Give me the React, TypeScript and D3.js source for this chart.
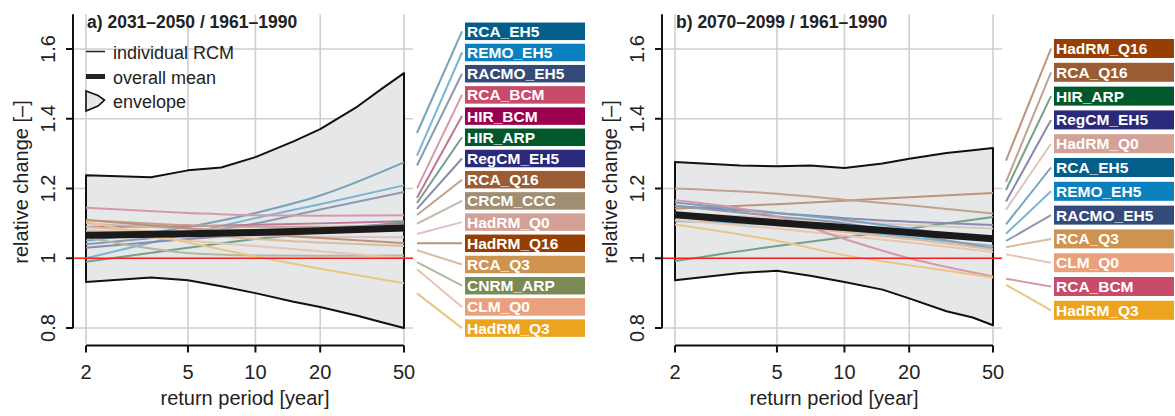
import React from "react";
import * as d3 from "d3";

// ---------- data ----------
const returnPeriods = [2, 5, 10, 20, 50];
const xTicks = [2, 5, 10, 20, 50];
const yTicks = [0.8, 1, 1.2, 1.4, 1.6];
const yTickLabels = ["0.8", "1", "1.2", "1.4", "1.6"];
const envelopePeriods = [2, 3.5, 5, 7, 10, 15, 20, 30, 40, 50];

const modelColors: Record<string, string> = {
  RCA_EH5: "#035f8a",
  REMO_EH5: "#0c80bf",
  RACMO_EH5: "#344a78",
  RCA_BCM: "#c84b6a",
  HIR_BCM: "#990050",
  HIR_ARP: "#00582b",
  RegCM_EH5: "#2b2a7a",
  RCA_Q16: "#9a5c33",
  CRCM_CCC: "#a18d72",
  HadRM_Q0: "#d3a196",
  HadRM_Q16: "#963f05",
  RCA_Q3: "#cf9350",
  CNRM_ARP: "#7b8a55",
  CLM_Q0: "#eaa07a",
  HadRM_Q3: "#eca41e",
};

// panel a: 2031-2050
const modelsA = [
  "RCA_EH5", "REMO_EH5", "RACMO_EH5", "RCA_BCM", "HIR_BCM", "HIR_ARP", "RegCM_EH5",
  "RCA_Q16", "CRCM_CCC", "HadRM_Q0", "HadRM_Q16", "RCA_Q3", "CNRM_ARP", "CLM_Q0", "HadRM_Q3",
];
const valuesA = [
  [1.05, 1.09, 1.13, 1.18, 1.275],
  [1.0, 1.07, 1.115, 1.155, 1.209],
  [1.04, 1.07, 1.1, 1.14, 1.19],
  [1.145, 1.13, 1.123, 1.122, 1.123],
  [1.09, 1.092, 1.096, 1.1, 1.106],
  [0.99, 1.03, 1.055, 1.075, 1.104],
  [1.03, 1.055, 1.07, 1.085, 1.1],
  [1.11, 1.095, 1.09, 1.09, 1.095],
  [1.1, 1.085, 1.08, 1.078, 1.08],
  [1.08, 1.07, 1.065, 1.062, 1.06],
  [1.11, 1.085, 1.07, 1.058, 1.043],
  [1.09, 1.07, 1.055, 1.045, 1.035],
  [1.06, 1.015, 1.008, 1.007, 1.008],
  [1.075, 1.05, 1.035, 1.02, 1.0],
  [1.105, 1.045, 1.005, 0.97, 0.928],
];
const meanA = [1.066, 1.07, 1.074, 1.079, 1.087];
const upperA = [1.238, 1.232, 1.252, 1.26, 1.29, 1.335, 1.37, 1.435, 1.49, 1.531];
const lowerA = [0.932, 0.945, 0.937, 0.92, 0.9, 0.875, 0.86, 0.835, 0.815, 0.8];

// panel b: 2070-2099
const modelsB = [
  "HadRM_Q16", "RCA_Q16", "HIR_ARP", "RegCM_EH5", "HadRM_Q0", "RCA_EH5",
  "REMO_EH5", "RACMO_EH5", "RCA_Q3", "CLM_Q0", "RCA_BCM", "HadRM_Q3",
];
const valuesB = [
  [1.142, 1.155, 1.165, 1.175, 1.187],
  [1.2, 1.185, 1.168, 1.152, 1.128],
  [0.992, 1.035, 1.06, 1.085, 1.118],
  [1.15, 1.13, 1.115, 1.105, 1.095],
  [1.13, 1.115, 1.105, 1.095, 1.085],
  [1.16, 1.13, 1.11, 1.085, 1.05],
  [1.107, 1.095, 1.08, 1.06, 1.035],
  [1.15, 1.12, 1.1, 1.07, 1.028],
  [1.118, 1.095, 1.075, 1.055, 1.025],
  [1.11, 1.085, 1.065, 1.045, 1.018],
  [1.166, 1.12, 1.055, 1.0, 0.948],
  [1.097, 1.05, 1.009, 0.98, 0.945],
];
const meanB = [1.125, 1.102, 1.088, 1.074, 1.056];
const upperB = [1.276, 1.266, 1.264, 1.266, 1.259, 1.272, 1.285, 1.302, 1.31, 1.316];
const lowerB = [0.937, 0.958, 0.964, 0.95, 0.932, 0.91, 0.885, 0.848, 0.83, 0.808];

const titleA = "a) 2031\u20132050 / 1961\u20131990";
const titleB = "b) 2070\u20132099 / 1961\u20131990";

// ---------- helpers ----------
const FONT = "'Liberation Sans', Arial, Helvetica, sans-serif";
const gumbel = (T: number) => -Math.log(-Math.log(1 - 1 / T));

function lighten(c: string, a: number) {
  const col = d3.rgb(c);
  const bg = d3.rgb("#e6e7e9");
  return d3.rgb(
    col.r * a + bg.r * (1 - a),
    col.g * a + bg.g * (1 - a),
    col.b * a + bg.b * (1 - a)
  ).formatHex();
}

type PanelProps = {
  offset: number;
  title: string;
  models: string[];
  values: number[][];
  mean: number[];
  upper: number[];
  lower: number[];
  labelTop: number;
  labelStep: number;
  boxH: number;
  legend: boolean;
};

function Panel(p: PanelProps) {
  const x = d3.scaleLinear().domain([gumbel(2), gumbel(50)]).range([86 + p.offset, 404 + p.offset]);
  const y = d3.scaleLinear().domain([0.8, 1.6]).range([328, 49]);
  const xl = x(gumbel(2));
  const xr = x(gumbel(50));
  const plotL = 73 + p.offset;
  const plotR = 413 + p.offset;
  const yTop = y(1.7);
  const xAxisY = 345.5;

  const line = d3
    .line<number>()
    .x((_, i) => x(gumbel(returnPeriods[i])))
    .y((v) => y(v))
    .curve(d3.curveMonotoneX);

  const envPts: [number, number][] = [
    ...upperA.map((_, i) => [x(gumbel(envelopePeriods[i])), y(p.upper[i])] as [number, number]),
    ...p.lower
      .map((v, i) => [x(gumbel(envelopePeriods[i])), y(v)] as [number, number])
      .reverse(),
  ];
  const envPath = d3.line()(envPts) + "Z";

  const connStart = xr + 13;
  const connEnd = xr + 58;

  return (
    <g>
      {/* grid */}
      {yTicks.map((t) => (
        <line key={"gy" + t} x1={plotL} x2={plotR} y1={y(t)} y2={y(t)} stroke="#cfcfcf" strokeWidth={1.6} />
      ))}
      {xTicks.map((t) => (
        <line key={"gx" + t} x1={x(gumbel(t))} x2={x(gumbel(t))} y1={yTop} y2={xAxisY - 2} stroke="#cfcfcf" strokeWidth={1.6} />
      ))}
      {/* envelope */}
      <path d={envPath} fill="#e6e7e9" stroke="#111" strokeWidth={2} strokeLinejoin="round" />
      {/* individual lines */}
      {p.models.map((m, i) => (
        <path key={m} d={line(p.values[i]) || ""} fill="none" stroke={lighten(modelColors[m], 0.5)} strokeWidth={2} />
      ))}
      {/* mean */}
      <path d={line(p.mean) || ""} fill="none" stroke="#1a1a1a" strokeWidth={7} />
      {/* reference line */}
      <line x1={plotL} x2={plotR} y1={y(1)} y2={y(1)} stroke="#ff1a1a" strokeWidth={1.6} />
      {/* y axis */}
      <line x1={plotL} x2={plotL} y1={yTop} y2={y(0.8)} stroke="#111" strokeWidth={2} />
      {yTicks.map((t, i) => (
        <g key={"yt" + t}>
          <line x1={plotL - 7} x2={plotL} y1={y(t)} y2={y(t)} stroke="#111" strokeWidth={2} />
          <text
            transform={`translate(${55 + p.offset},${y(t)}) rotate(-90)`}
            textAnchor="middle"
            fontSize={20}
            fontFamily={FONT}
            fill="#222"
          >
            {yTickLabels[i]}
          </text>
        </g>
      ))}
      <text
        transform={`translate(${28 + p.offset},${182}) rotate(-90)`}
        textAnchor="middle"
        fontSize={20}
        fontFamily={FONT}
        fill="#222"
      >
        relative change [–]
      </text>
      {/* x axis */}
      <line x1={xl} x2={xr} y1={xAxisY} y2={xAxisY} stroke="#111" strokeWidth={2} />
      {xTicks.map((t) => (
        <g key={"xt" + t}>
          <line x1={x(gumbel(t))} x2={x(gumbel(t))} y1={xAxisY} y2={xAxisY + 7} stroke="#111" strokeWidth={2} />
          <text x={x(gumbel(t))} y={379} textAnchor="middle" fontSize={20} fontFamily={FONT} fill="#222">
            {t}
          </text>
        </g>
      ))}
      <text x={(xl + xr) / 2} y={405} textAnchor="middle" fontSize={20} fontFamily={FONT} fill="#222">
        return period [year]
      </text>
      {/* title */}
      <text x={xl + 1} y={28} fontSize={17.5} fontWeight="bold" fontFamily={FONT} fill="#222">
        {p.title}
      </text>
      {/* labels + connectors */}
      {p.models.map((m, i) => {
        const ly = p.labelTop + i * p.labelStep;
        const ye = y(p.values[i][p.values[i].length - 1]);
        const t = (connStart - xr) / (connEnd - xr);
        const ys = ye + (ly - ye) * t;
        return (
          <g key={"lab" + m}>
            <line x1={connStart} y1={ys} x2={connEnd} y2={ly} stroke={lighten(modelColors[m], 0.5)} strokeWidth={2} />
            <rect x={connEnd + 3} y={ly - p.boxH / 2} width={120} height={p.boxH} fill={modelColors[m]} />
            <text x={connEnd + 5} y={ly + 5.5} fontSize={15.5} fontWeight="bold" fontFamily={FONT} fill="#fff">
              {m}
            </text>
          </g>
        );
      })}
      {/* legend */}
      {p.legend && (
        <g fontFamily={FONT} fontSize={18} fill="#222">
          <line x1={86} x2={105} y1={51.5} y2={51.5} stroke="#222" strokeWidth={1.5} />
          <text x={113} y={58.5}>individual RCM</text>
          <line x1={86} x2={105} y1={76.5} y2={76.5} stroke="#222" strokeWidth={5} />
          <text x={113} y={83.5}>overall mean</text>
          <path d="M86,91 L98,95.5 L104.5,100 L98,106 L86,111 Z" fill="#e6e7e9" stroke="#111" strokeWidth={1.6} />
          <text x={113} y={108}>envelope</text>
        </g>
      )}
    </g>
  );
}

export default function App() {
  return (
    <div>
      <style>{`body{margin:0}`}</style>
      <svg width={1175} height={416} style={{ display: "block", background: "#fff" }}>
        <Panel
          offset={0}
          title={titleA}
          models={modelsA}
          values={valuesA}
          mean={meanA}
          upper={upperA}
          lower={lowerA}
          labelTop={31.3}
          labelStep={21.2}
          boxH={17.5}
          legend={true}
        />
        <Panel
          offset={589}
          title={titleB}
          models={modelsB}
          values={valuesB}
          mean={meanB}
          upper={upperB}
          lower={lowerB}
          labelTop={48.5}
          labelStep={23.8}
          boxH={19}
          legend={false}
        />
      </svg>
    </div>
  );
}
